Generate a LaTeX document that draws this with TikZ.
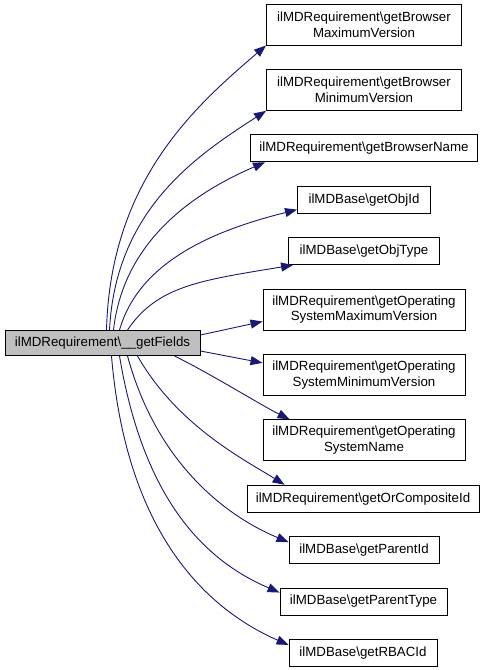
\documentclass[tikz,border=0pt]{standalone}
\usepackage{fontspec}
\setmainfont{Liberation Sans}
\usetikzlibrary{arrows.meta}
\definecolor{edgecol}{HTML}{191970}
\definecolor{mainfill}{HTML}{BFBFBF}
\tikzset{
  fn/.style={draw=black, line width=0.9pt, fill=white, inner sep=0pt, align=center,
    font=\fontsize{13.3}{15.5}\selectfont, minimum height=27pt},
  fntwo/.style={fn, minimum height=41pt},
  callee/.style={draw=edgecol, line width=0.9pt, -{Triangle[length=12pt,width=9pt]}}
}
\begin{document}
\begin{tikzpicture}[x=1pt,y=-1pt]
\useasboundingbox (0,0) rectangle (487,670);
\node[fn, fill=mainfill, minimum width=195pt, minimum height=25pt] (main) at (102.5,343) {ilMDRequirement\textbackslash\_\_getFields};
\node[fntwo, minimum width=195pt] (b1) at (364,24.5) {ilMDRequirement\textbackslash getBrowser\\MaximumVersion};
\node[fntwo, minimum width=195pt] (b2) at (364,89.9) {ilMDRequirement\textbackslash getBrowser\\MinimumVersion};
\node[fn, minimum width=227pt] (b3) at (364,148.3) {ilMDRequirement\textbackslash getBrowserName};
\node[fn, minimum width=133pt] (b4) at (364,199.7) {ilMDBase\textbackslash getObjId};
\node[fn, minimum width=151pt] (b5) at (364,251.1) {ilMDBase\textbackslash getObjType};
\node[fntwo, minimum width=202pt] (b6) at (364,309.5) {ilMDRequirement\textbackslash getOperating\\SystemMaximumVersion};
\node[fntwo, minimum width=202pt] (b7) at (364,374.9) {ilMDRequirement\textbackslash getOperating\\SystemMinimumVersion};
\node[fntwo, minimum width=202pt] (b8) at (364,440.3) {ilMDRequirement\textbackslash getOperating\\SystemName};
\node[fn, minimum width=232pt] (b9) at (363,498.7) {ilMDRequirement\textbackslash getOrCompositeId};
\node[fn, minimum width=150pt] (b10) at (364,550.1) {ilMDBase\textbackslash getParentId};
\node[fn, minimum width=167pt] (b11) at (363.5,601.5) {ilMDBase\textbackslash getParentType};
\node[fn, minimum width=148pt] (b12) at (363,652.9) {ilMDBase\textbackslash getRBACId};

\draw[callee] ([xshift=4pt]main.north) .. controls +(4,-150) and +(-70,60) .. (b1.south west);
\draw[callee] ([xshift=7pt]main.north) .. controls +(6,-120) and +(-70,45) .. (b2.south west);
\draw[callee] ([xshift=11pt]main.north) .. controls +(10,-90) and +(-70,30) .. ([xshift=15pt]b3.south west);
\draw[callee] ([xshift=17pt]main.north) .. controls +(20,-70) and +(-80,20) .. ([yshift=4pt]b4.south west);
\draw[callee] ([xshift=25pt]main.north) .. controls +(30,-45) and +(-90,15) .. ([xshift=5pt]b5.south west);
\draw[callee] ([yshift=8pt]main.east) -- ([yshift=-12pt]b6.west);
\draw[callee] ([yshift=-8pt]main.east) -- ([yshift=12pt]b7.west);
\draw[callee] ([xshift=72pt]main.south) .. controls +(40,20) and +(-30,-15) .. ([xshift=27pt]b8.north west);
\draw[callee] ([xshift=35pt]main.south) .. controls +(40,70) and +(-40,-25) .. ([xshift=38pt]b9.north west);
\draw[callee] ([xshift=25pt]main.south) .. controls +(30,110) and +(-60,-25) .. ([yshift=-6pt]b10.north west);
\draw[callee] ([xshift=17pt]main.south) .. controls +(25,150) and +(-70,-30) .. ([yshift=-5pt]b11.north west);
\draw[callee] ([xshift=9pt]main.south) .. controls +(15,180) and +(-80,-35) .. ([yshift=-6pt]b12.north west);
\end{tikzpicture}
\end{document}
